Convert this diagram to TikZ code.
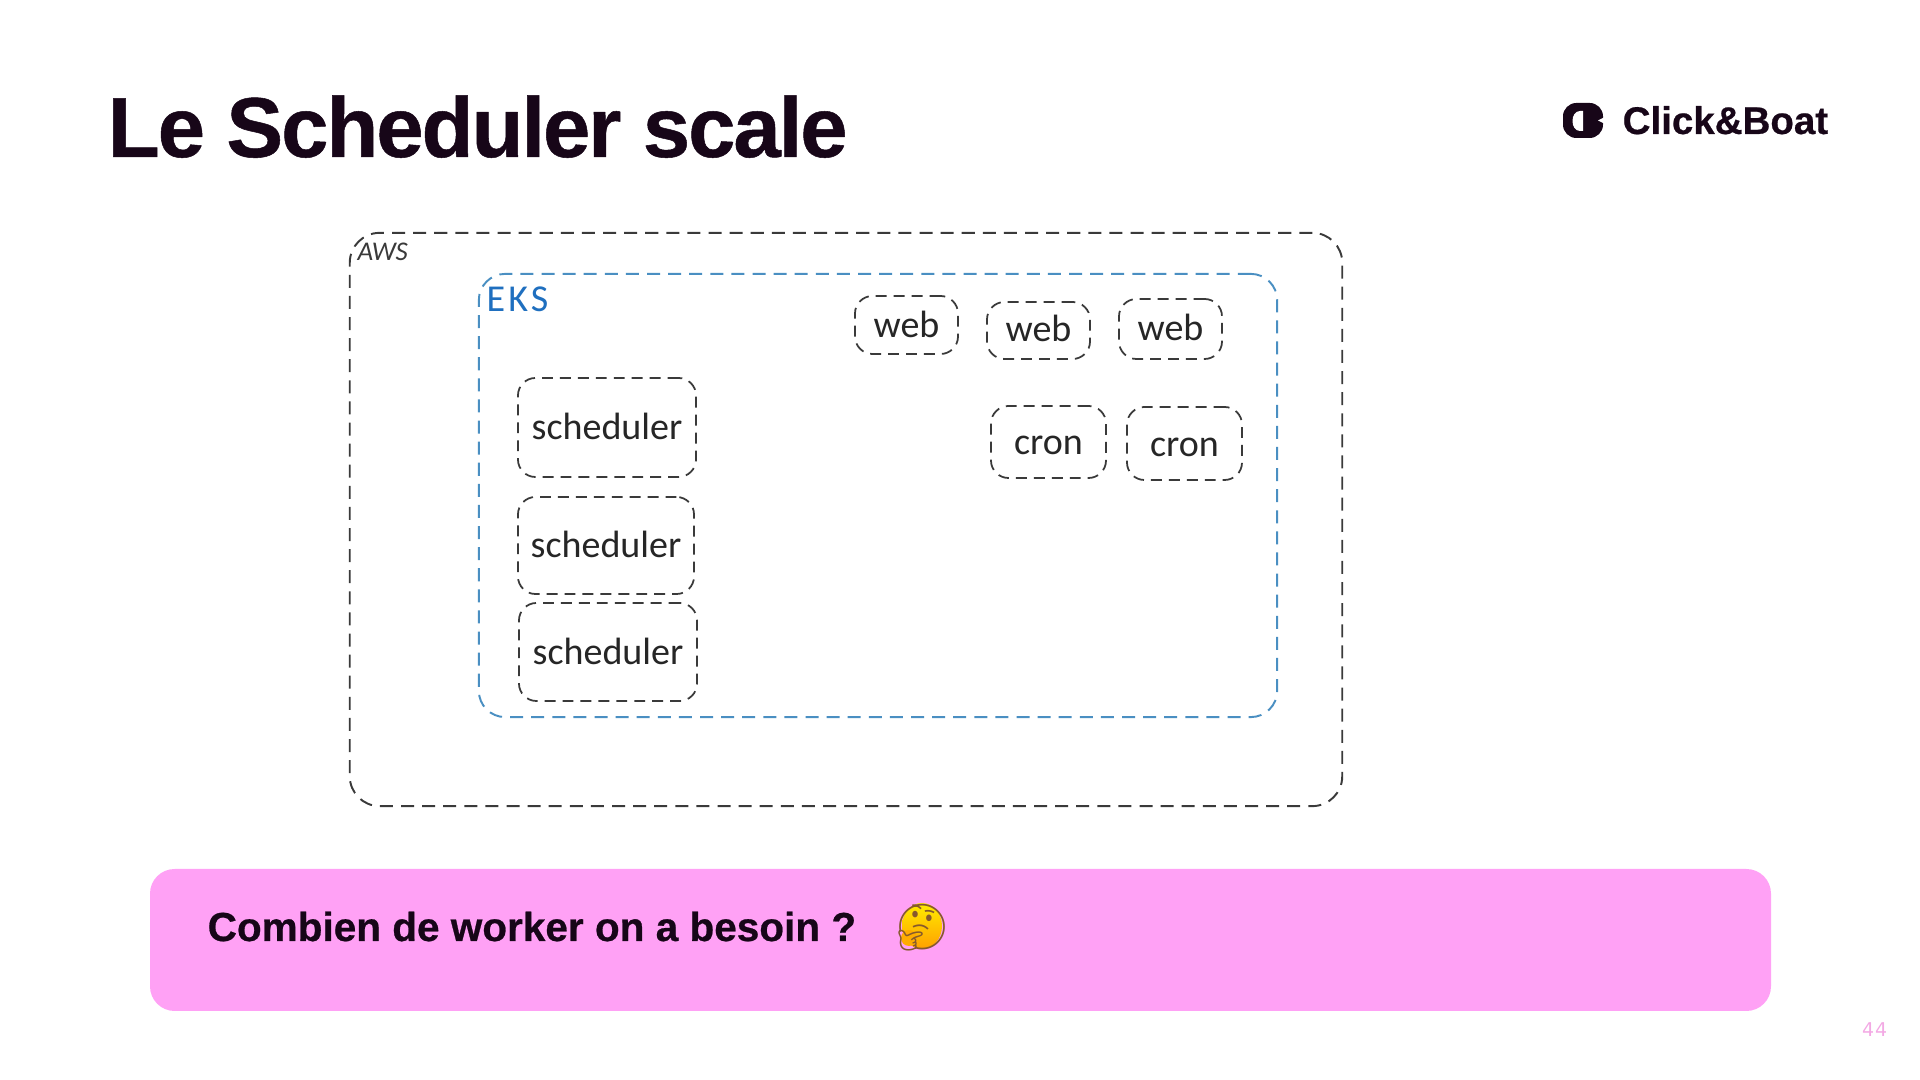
\documentclass[tikz,border=0pt]{standalone}
\usepackage{fontspec}
\setmainfont{Liberation Sans}
\newfontfamily\handfont{Carlito}
\newfontfamily\heavyfont[FakeBold=0.6]{Liberation Sans Bold}
\newfontfamily\emojifont{Noto Emoji}
\newfontfamily\numfont{DejaVu Sans}
\newcommand{\pxfont}[1]{\fontsize{\the\dimexpr #1pt*2845/10000\relax}{\the\dimexpr #1pt*3/10\relax}\selectfont}
\definecolor{inkdark}{HTML}{170618}
\definecolor{boxgray}{HTML}{3A3A3A}
\definecolor{eksline}{HTML}{4A8FC2}
\definecolor{ekstext}{HTML}{1F6FBF}
\definecolor{banner}{HTML}{FFA1F5}
\definecolor{pagenum}{HTML}{F3A9E4}
\begin{document}
\begin{tikzpicture}[
		x=0.01cm, 
		y=-0.01cm, 
		line join=round, 
		line cap=butt, 
		podbox/.style={draw=boxgray, line width=0.5pt, dash pattern=on 3.1pt off 2pt, rounded corners=5pt, inner sep=0pt},
		podtext/.style={font=\handfont\pxfont{38}, text=black!85, inner sep=0pt, anchor=base},
		]
		
		\useasboundingbox (0,0) rectangle (1920,1080);
		
		\node[anchor=base west, inner sep=0pt, text=inkdark] (title) at (107,157) 
		{\heavyfont\addfontfeature{LetterSpace=-2.4}\pxfont{85}Le Scheduler scale};
		
		% logo
		\fill[inkdark, rounded corners=3.8pt] (1563,103) rectangle (1603,138);
		\fill[white] (1583,111) -- (1583,131) -- (1580,131) .. controls (1570,131) and (1570,111) .. (1580,111) -- cycle;
		\fill[white] (1604,117.5) -- (1598,120.5) -- (1604,123.5) -- cycle;
		\node[anchor=base west, inner sep=0pt, text=inkdark] (logo) at (1622,134) 
		{\heavyfont\pxfont{38.5}Click\&Boat};
		
		% cloud
		\node[draw=boxgray, line width=0.55pt, dash pattern=on 3.7pt off 2.3pt, rounded corners=8.5pt, 
		minimum width=992*0.2845pt, minimum height=573*0.2845pt, inner sep=0pt] (aws) at (846,519.5) {};
		\node[anchor=west, inner sep=0pt, text=boxgray, font=\handfont\pxfont{27}\itshape] (awslabel) at (357,252) {AWS};
		
		\node[draw=eksline, line width=0.55pt, dash pattern=on 3.7pt off 2.3pt, rounded corners=7.5pt, 
		minimum width=798*0.2845pt, minimum height=443*0.2845pt, inner sep=0pt] (eks) at (878,495.5) {};
		\node[anchor=west, inner sep=0pt, text=ekstext, font=\handfont\addfontfeature{LetterSpace=8}\pxfont{38}] (ekslabel) at (486,299) {EKS};
		
		% pods
		\foreach \name/\cx/\cy/\bw/\bh/\drop/\lbl in {
			sched1/607/427.5/178/99/12.5/scheduler,
			sched2/606/545.5/176/97/12.5/scheduler,
			sched3/608/652/178/98/12.5/scheduler,
			web1/906.5/325/103/58/12.5/web,
			web2/1038.5/330.5/103/57/11/web,
			web3/1170.5/329/103/60/12/web,
			cron1/1048.5/442/115/72/13/cron,
			cron2/1184.5/443.5/115/73/13/cron} {
			\node[podbox, minimum width=\bw*0.2845pt, minimum height=\bh*0.2845pt] (\name) at (\cx,\cy) {};
			\node[podtext] (\name text) at ([yshift=-\drop*0.2845pt]\name.center) {\lbl};
		}
		
		% question
		\fill[banner, rounded corners=7pt] (150,869) rectangle (1771,1011);
		\node[anchor=base west, inner sep=0pt, text=inkdark] (question) at (207,941) 
		{\heavyfont\pxfont{40.5}Combien de worker on a besoin ?};
		\shade[top color=yellow!85!orange, bottom color=orange!75!yellow] (922,926) ellipse (20 and 23);
		\fill[orange!65!yellow] (909,938) circle (8);
		\node[inner sep=0pt, text=brown!70!black] (emoji) at (922,928) {\emojifont\pxfont{45}🤔};
		
		\node[anchor=base east, inner sep=0pt, text=pagenum] (pagenumber) at (1888,1037) 
		{\numfont\addfontfeature{LetterSpace=5}\pxfont{19}44};
		
	\end{tikzpicture}
\end{document}
